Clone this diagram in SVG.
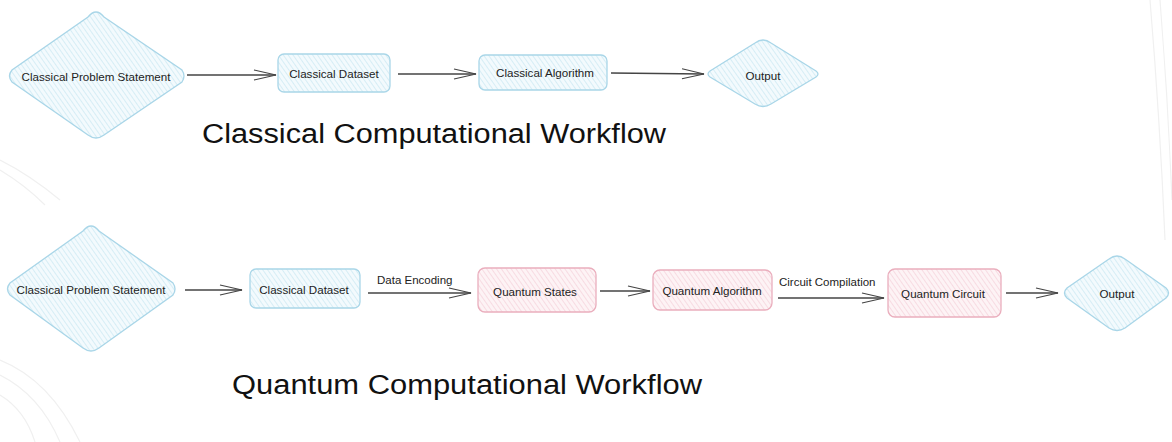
<svg xmlns="http://www.w3.org/2000/svg" width="1172" height="442" viewBox="0 0 1172 442">
<defs>
<pattern id="hb" width="4" height="4" patternUnits="userSpaceOnUse" patternTransform="rotate(-35)">
<rect width="4" height="4" fill="#f3fafd"/>
<line x1="0" y1="0" x2="0" y2="4" stroke="#b9e0ee" stroke-width="1"/>
</pattern>
<pattern id="hp" width="4" height="4" patternUnits="userSpaceOnUse" patternTransform="rotate(-35)">
<rect width="4" height="4" fill="#fdf3f5"/>
<line x1="0" y1="0" x2="0" y2="4" stroke="#f2c3cf" stroke-width="1"/>
</pattern>
<marker id="ah" viewBox="0 0 24 12" refX="23" refY="6" markerWidth="24" markerHeight="12" markerUnits="userSpaceOnUse" orient="auto">
<path d="M1,1 L23,6 L1,11" fill="none" stroke="#444" stroke-width="1.2"/>
</marker>
<style>
.b{fill:url(#hb);stroke:#a9d6e8;stroke-width:1.3}
.p{fill:url(#hp);stroke:#eaaebd;stroke-width:1.3}
.t{font-family:"Liberation Sans",Arial,sans-serif;font-size:11.6px;fill:#222;text-anchor:middle;dominant-baseline:central}
.l{font-family:"Liberation Sans",Arial,sans-serif;font-size:11.5px;fill:#222}
.h{font-family:"Liberation Sans",Arial,sans-serif;font-size:27px;fill:#111}
.c{fill:none;stroke:#444;stroke-width:1.3;marker-end:url(#ah)}
.bg{fill:none;stroke:#f0f0f0;stroke-width:1.2}
</style>
</defs>
<rect width="1172" height="442" fill="#fff"/>
<g id="background">
<path class="bg" d="M0,160 Q30,175 60,200"/>
<path class="bg" d="M0,170 Q25,185 45,205"/>
<path class="bg" d="M0,360 Q50,380 80,442"/>
<path class="bg" d="M0,375 Q40,395 60,442"/>
<path class="bg" d="M0,395 Q25,410 35,442"/>
<path class="bg" d="M1150,0 Q1160,120 1165,240"/>
<path class="bg" d="M1160,0 Q1168,100 1172,200"/>
</g>
<g id="connectors">
<line class="c" x1="187" y1="75" x2="276" y2="75"/>
<line class="c" x1="398" y1="74" x2="476" y2="74"/>
<line class="c" x1="611" y1="73" x2="704" y2="74"/>
<line class="c" x1="185" y1="290" x2="242" y2="290"/>
<line class="c" x1="368" y1="293" x2="471" y2="293"/>
<text class="l" x="377" y="284">Data Encoding</text>
<line class="c" x1="600" y1="291" x2="650" y2="291"/>
<line class="c" x1="778" y1="298" x2="884" y2="298"/>
<text class="l" x="779" y="286">Circuit Compilation</text>
<line class="c" x1="1006" y1="293" x2="1058" y2="293"/>
</g>
<g id="c-problem">
<path class="b" d="M96,12 Q100,12 104,17 L182,70 Q186,76 182,82 L104,135 Q96,141 88,135 L12,82 Q7,76 12,70 L88,17 Q92,12 96,12 Z"/>
<text class="t" x="96" y="76">Classical Problem Statement</text>
</g>
<g id="c-dataset">
<rect class="b" x="278" y="54" width="112" height="38" rx="6"/>
<text class="t" x="334" y="73">Classical Dataset</text>
</g>
<g id="c-algorithm">
<rect class="b" x="479" y="55" width="128" height="35" rx="6"/>
<text class="t" x="545" y="72">Classical Algorithm</text>
</g>
<g id="c-output">
<path class="b" d="M763,40 Q767,40 771,43 L816,71 Q820,74 816,77 L771,104 Q763,109 755,104 L710,77 Q706,74 710,71 L755,43 Q759,40 763,40 Z"/>
<text class="t" x="763" y="75">Output</text>
</g>
<text class="h" x="202" y="143" textLength="464" lengthAdjust="spacingAndGlyphs">Classical Computational Workflow</text>
<g id="q-problem">
<path class="b" d="M91,226 Q95,226 99,231 L173,283 Q177,289 173,295 L99,348 Q91,354 83,348 L10,295 Q5,289 10,283 L83,231 Q87,226 91,226 Z"/>
<text class="t" x="91" y="289">Classical Problem Statement</text>
</g>
<g id="q-dataset">
<rect class="b" x="250" y="269" width="110" height="39" rx="6"/>
<text class="t" x="304" y="289">Classical Dataset</text>
</g>
<g id="q-states">
<rect class="p" x="478" y="268" width="118" height="44" rx="7"/>
<text class="t" x="535" y="291">Quantum States</text>
</g>
<g id="q-algorithm">
<rect class="p" x="653" y="270" width="119" height="40" rx="7"/>
<text class="t" x="712" y="290">Quantum Algorithm</text>
</g>
<g id="q-circuit">
<rect class="p" x="888" y="269" width="113" height="48" rx="7"/>
<text class="t" x="943" y="293">Quantum Circuit</text>
</g>
<g id="q-output">
<path class="b" d="M1117,256 Q1121,256 1125,259 L1166,288 Q1171,293 1166,298 L1125,328 Q1117,333 1109,328 L1067,298 Q1062,293 1067,288 L1109,259 Q1113,256 1117,256 Z"/>
<text class="t" x="1117" y="293">Output</text>
</g>
<text class="h" x="232" y="394" textLength="470" lengthAdjust="spacingAndGlyphs">Quantum Computational Workflow</text>
</svg>
